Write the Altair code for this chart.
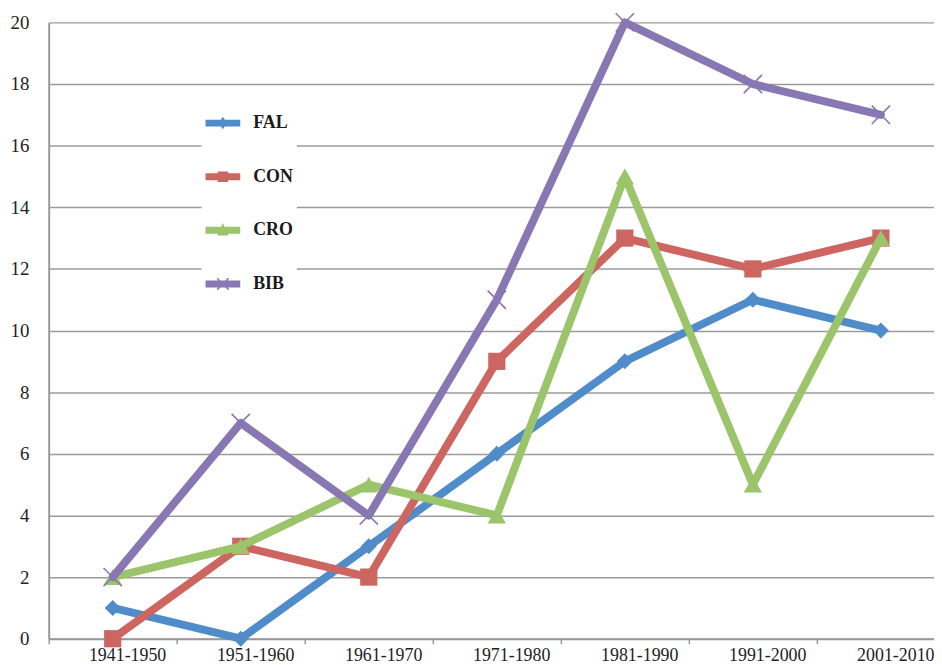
import altair as alt
import pandas as pd

periods = ["1941-1950", "1951-1960", "1961-1970", "1971-1980", "1981-1990", "1991-2000", "2001-2010"]
series = ["FAL", "CON", "CRO", "BIB"]
fal = [1, 0, 3, 6, 9, 11, 10]
con = [0, 3, 2, 9, 13, 12, 13]
cro = [2, 3, 5, 4, 15, 5, 13]
bib = [2, 7, 4, 11, 20, 18, 17]
y_ticks = [0, 2, 4, 6, 8, 10, 12, 14, 16, 18, 20]

values = {"FAL": fal, "CON": con, "CRO": cro, "BIB": bib}
colors = {"FAL": "#4F8CC9", "CON": "#CD6660", "CRO": "#9CC46B", "BIB": "#8877B2"}

rows = []
for s in series:
    for i, (p, v) in enumerate(zip(periods, values[s])):
        rows.append({"series": s, "idx": i, "period": p, "value": v})
df = pd.DataFrame(rows)

FONT = "Liberation Serif"
W, H = 892, 621
PX_PER_BAND = 129.0
x_domain = [-0.5, -0.5 + W / PX_PER_BAND]

label_array = "[" + ",".join("'%s'" % p for p in periods) + "]"

x_enc = alt.X(
    "idx:Q",
    scale=alt.Scale(domain=x_domain, nice=False, zero=False),
    axis=alt.Axis(
        title=None,
        values=[i - 0.5 for i in range(len(periods))],
        labelExpr=label_array + "[round(datum.value + 0.5)]",
        labelOffset=79,
        labelAlign="center",
        labelOverlap=False,
        labelBound=False,
        labelFlush=False,
        tickSize=5,
        tickColor="#999999",
        tickWidth=1.5,
        labelPadding=3,
        grid=False,
        domainColor="#999999",
        domainWidth=2,
        labelFont=FONT,
        labelFontSize=18,
        labelColor="#222222",
    ),
)
y_enc = alt.Y(
    "value:Q",
    scale=alt.Scale(domain=[0, 20], nice=False),
    axis=alt.Axis(
        title=None,
        values=y_ticks,
        tickSize=0,
        labelPadding=20,
        grid=True,
        gridColor="#9b9b9b",
        gridWidth=1.5,
        domainColor="#999999",
        domainWidth=2,
        labelFont=FONT,
        labelFontSize=19,
        labelColor="#222222",
    ),
)

marker = {
    "FAL": dict(shape="diamond", filled=True, size=260),
    "CON": dict(shape="square", filled=True, size=300),
    "CRO": dict(shape="triangle-up", filled=True, size=340),
    "BIB": dict(shape="M-1,-1L1,1M-1,1L1,-1", filled=False, size=340, strokeWidth=1.6),
}

layers = []
for s in series:
    sub = alt.Chart(df).transform_filter(alt.datum.series == s)
    line = sub.mark_line(strokeWidth=8, strokeJoin="round", strokeCap="round", color=colors[s]).encode(
        x=x_enc, y=y_enc
    )
    m = dict(marker[s])
    pts = sub.mark_point(color=colors[s], opacity=1, **m).encode(x=x_enc, y=y_enc)
    layers += [line, pts]

# legend symbols: line segment with marker, as custom paths in the unit box
bar = "M-1,-0.2H1V0.2H-1Z"
legend_paths = [
    bar + "M0,-0.36L0.24,0L0,0.36L-0.24,0Z",
    bar + "M-0.3,-0.3H0.3V0.3H-0.3Z",
    bar + "M0,-0.42L0.34,0.3H-0.34Z",
    bar + "M-0.36,-0.3L-0.3,-0.36L0.36,0.3L0.3,0.36Z M0.3,-0.36L0.36,-0.3L-0.3,0.36L-0.36,0.3Z",
]

legend_layer = alt.Chart(df).transform_filter("false").mark_point(filled=True, opacity=1).encode(
    x=x_enc,
    y=y_enc,
    color=alt.Color(
        "series:N",
        scale=alt.Scale(domain=series, range=[colors[s] for s in series]),
        legend=alt.Legend(
            title=None,
            orient="none",
            legendX=154,
            legendY=80,
            symbolSize=1225,
            symbolStrokeWidth=0,
            symbolOpacity=1,
            rowPadding=27,
            labelOffset=13,
            labelFont=FONT,
            labelFontSize=18,
            labelFontWeight="bold",
            labelColor="#1a1a1a",
            fillColor="white",
            padding=4,
        ),
    ),
    shape=alt.Shape(
        "series:N",
        scale=alt.Scale(domain=series, range=legend_paths),
    ),
)

chart = (
    alt.layer(*layers, legend_layer)
    .properties(
        width=W,
        height=H,
        autosize=alt.AutoSizeParams(type="none"),
        padding={"left": 41, "top": 12, "right": 0, "bottom": 26},
        background="white",
    )
    .configure_view(stroke=None)
)

chart.save("out.html", embed_options={"renderer": "svg", "actions": False})
